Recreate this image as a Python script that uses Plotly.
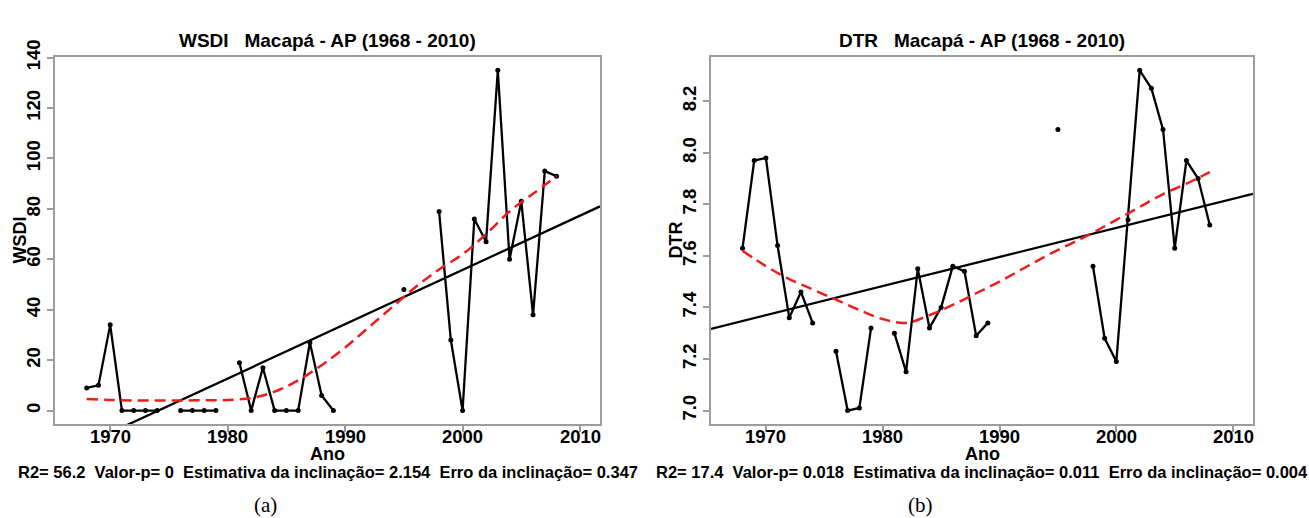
import plotly.graph_objects as go

W, H = 1309, 518

# ---------------- data ----------------
years = list(range(1968, 2009))

wsdi = [9, 10, 34, 0, 0, 0, 0, None, 0, 0, 0, 0, None, 19, 0, 17, 0, 0, 0, 27, 6, 0,
        None, None, None, None, None, 48, None, None, 79, 28, 0, 76, 67, 135, 60, 83, 38, 95, 93]

dtr = [7.63, 7.97, 7.98, 7.64, 7.36, 7.46, 7.34, None, 7.23, 7.00, 7.01, 7.32, None,
       7.30, 7.15, 7.55, 7.32, 7.40, 7.56, 7.54, 7.29, 7.34,
       None, None, None, None, None, 8.09, None, None,
       7.56, 7.28, 7.19, 7.74, 8.32, 8.25, 8.09, 7.63, 7.97, 7.90, 7.72]

smooth_years = list(range(1968, 2009, 2))
wsdi_smooth = [4.6, 4.2, 4.0, 4.0, 4.0, 4.1, 4.2, 5.0, 7.5, 12, 18, 25, 33, 41, 49, 56,
               62, 70, 79, 86, 93]
dtr_smooth = [7.62, 7.56, 7.51, 7.47, 7.43, 7.39, 7.355, 7.34, 7.37, 7.41, 7.455, 7.50,
              7.55, 7.60, 7.645, 7.69, 7.74, 7.79, 7.84, 7.88, 7.925]

# linear trends: (slope per year, reference year, value at reference year)
wsdi_trend = (2.154, 2011.7, 81.0)
dtr_trend = (0.0113, 2011.7, 7.841)

x_range = [1965.3, 2011.7]
x_ticks = [1970, 1980, 1990, 2000, 2010]
wsdi_range = [-5.4, 140.4]
wsdi_ticks = [0, 20, 40, 60, 80, 100, 120, 140]
dtr_range = [6.947, 8.373]
dtr_ticks = [7.0, 7.2, 7.4, 7.6, 7.8, 8.0, 8.2]

titles = ["WSDI   Macapá - AP (1968 - 2010)", "DTR   Macapá - AP (1968 - 2010)"]
ylabels = ["WSDI", "DTR"]
stats = ["R2= 56.2  Valor-p= 0  Estimativa da inclinação= 2.154  Erro da inclinação= 0.347",
         "R2= 17.4  Valor-p= 0.018  Estimativa da inclinação= 0.011  Erro da inclinação= 0.004"]
panel_labels = ["(a)", "(b)"]

# ---------------- layout geometry (pixels) ----------------
boxes = [(55, 600), (711, 1253)]
top, bottom = 41, 421

FONT = "Liberation Sans, Arial, sans-serif"
GREY = "#9c9c9c"
TICKSIZE = 18.5

def px(x):
    return x / W

def py(y):
    return 1 - y / H

fig = go.Figure()

panels = [
    (wsdi, wsdi_smooth, wsdi_trend, wsdi_range, wsdi_ticks, None),
    (dtr, dtr_smooth, dtr_trend, dtr_range, dtr_ticks, ".1f"),
]

annotations = []
for i, (vals, sm, trend, yr, yt, fmt) in enumerate(panels):
    xa = "x" if i == 0 else "x2"
    ya = "y" if i == 0 else "y2"
    fig.add_trace(go.Scatter(x=years, y=vals, mode="lines+markers", connectgaps=False,
                             line=dict(color="black", width=2.3),
                             marker=dict(color="black", size=5),
                             xaxis=xa, yaxis=ya, showlegend=False))
    slope, x0, y0 = trend
    tx = list(x_range)
    ty = [y0 + slope * (v - x0) for v in tx]
    fig.add_trace(go.Scatter(x=tx, y=ty, mode="lines",
                             line=dict(color="black", width=2.3),
                             xaxis=xa, yaxis=ya, showlegend=False))
    fig.add_trace(go.Scatter(x=smooth_years, y=sm, mode="lines",
                             line=dict(color="#ee1c1c", width=2.5, dash="11px,6px", shape="spline"),
                             xaxis=xa, yaxis=ya, showlegend=False))

    l, r = boxes[i]
    cx = (l + r) / 2
    axis_common = dict(showline=True, mirror=True, linecolor=GREY, linewidth=2,
                       showgrid=False, zeroline=False, ticks="outside", ticklen=6,
                       tickwidth=1.5, tickcolor=GREY,
                       tickfont=dict(family=FONT, size=TICKSIZE, color="black", weight="bold"))
    xkey = "xaxis" if i == 0 else "xaxis2"
    ykey = "yaxis" if i == 0 else "yaxis2"
    fig.update_layout(**{
        xkey: dict(domain=[px(l), px(r)], range=x_range, tickvals=x_ticks,
                   showticklabels=False, anchor=ya, **axis_common),
        ykey: dict(domain=[py(bottom), py(top)], range=yr, tickvals=yt,
                   tickformat=fmt, tickangle=-90, anchor=xa, **axis_common),
    })

    for t in x_ticks:
        annotations.append(dict(text=str(t), x=t, y=py(434), xref=xa, yref="paper",
                                showarrow=False, xanchor="center", yanchor="middle",
                                font=dict(family=FONT, size=TICKSIZE, color="black", weight="bold")))

    annotations += [
        dict(text=titles[i], x=px(cx), y=py(24), xref="paper", yref="paper",
             showarrow=False, xanchor="center", yanchor="middle",
             font=dict(family=FONT, size=19, color="black", weight="bold")),
        dict(text=ylabels[i], x=px(l - 35), y=py((top + bottom) / 2), xref="paper", yref="paper",
             showarrow=False, xanchor="center", yanchor="middle", textangle=-90,
             font=dict(family=FONT, size=18, color="black", weight="bold")),
        dict(text="Ano", x=px(cx), y=py(452), xref="paper", yref="paper",
             showarrow=False, xanchor="center", yanchor="middle",
             font=dict(family=FONT, size=18, color="black", weight="bold")),
        dict(text=stats[i].replace("  ", "&nbsp; "), x=px(cx), y=py(470), xref="paper", yref="paper",
             showarrow=False, xanchor="center", yanchor="middle",
             font=dict(family=FONT, size=16.5, color="black", weight="bold")),
        dict(text=panel_labels[i], x=px(cx - 62), y=py(505), xref="paper", yref="paper",
             showarrow=False, xanchor="center", yanchor="middle",
             font=dict(family="Liberation Serif, Times New Roman, serif", size=21, color="black")),
    ]

fig.update_layout(width=W, height=H, margin=dict(l=0, r=0, t=0, b=0),
                  paper_bgcolor="white", plot_bgcolor="white",
                  annotations=annotations)

fig.write_html("out.html")
